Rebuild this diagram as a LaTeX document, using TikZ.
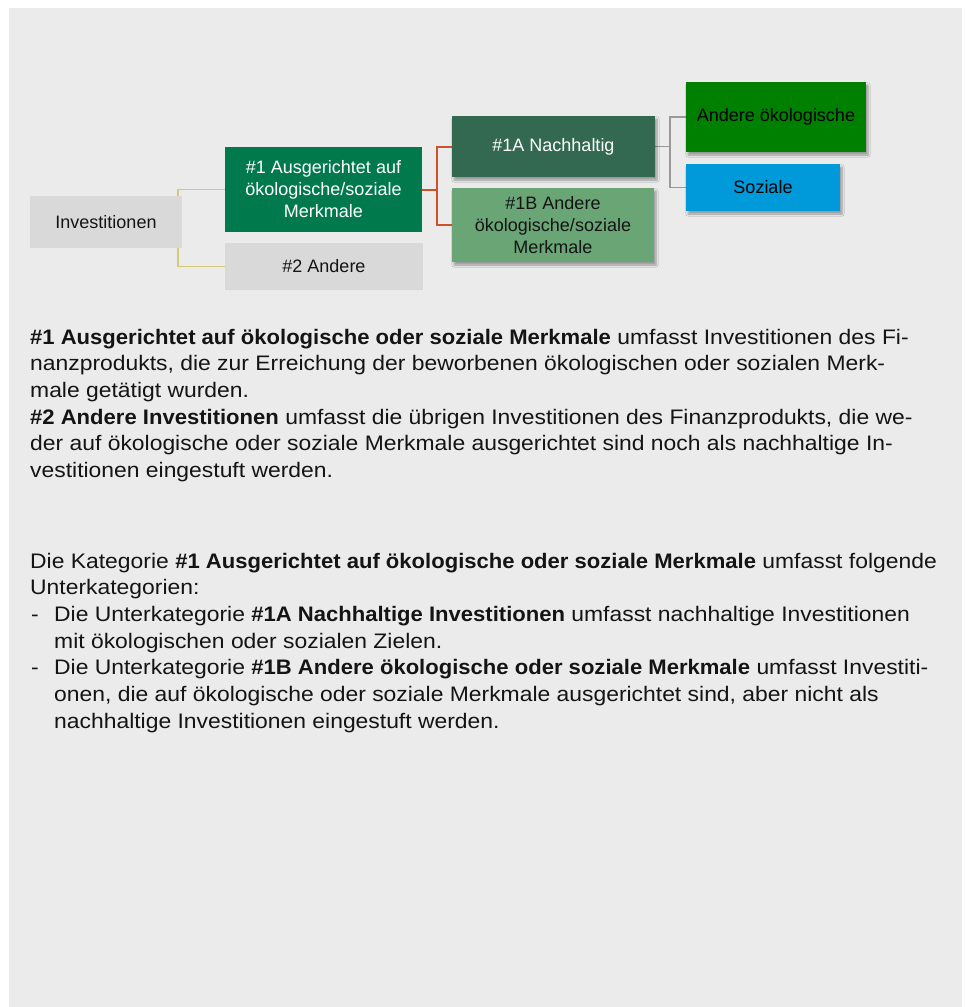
\documentclass[tikz,border=0pt]{standalone}
\usepackage{fontspec}
\setmainfont{Liberation Sans}
\newfontfamily\bodyfont[UprightFeatures={FakeStretch=1.09}, BoldFeatures={FakeStretch=1.05}]{Liberation Sans}
\usetikzlibrary{shadows.blur,backgrounds}
\definecolor{bgc}{HTML}{EBEBEB}
\definecolor{boxgray}{HTML}{D9D9D9}
\definecolor{gOne}{HTML}{007A4D}
\definecolor{gOneA}{HTML}{336951}
\definecolor{gOneB}{HTML}{6AA576}
\definecolor{gOeko}{HTML}{008000}
\definecolor{bSoz}{HTML}{0099DA}
\definecolor{cRed}{HTML}{D0502C}
\definecolor{cYel}{HTML}{D4C878}
\definecolor{cGray}{HTML}{999999}
\definecolor{txt}{HTML}{141414}
\tikzset{
  bx/.style={draw=none, inner sep=0pt, align=center, text=txt,
    font=\fontsize{18}{22}\selectfont},
  shd/.style={blur shadow={shadow xshift=2pt, shadow yshift=-3pt, shadow blur steps=6, shadow opacity=35}},
  body/.style={anchor=base west, inner sep=0pt, text=txt, font=\bodyfont\fontsize{21}{26.7}\selectfont},
  conn/.style={line width=1.5pt},
}
\begin{document}
\begin{tikzpicture}[x=1pt,y=-1pt]
\useasboundingbox (0,0) rectangle (966,1007);
% boxes
\node[bx, fill=boxgray, minimum width=152pt, minimum height=52pt] (inv) at (106,222) {Investitionen};
\node[bx, fill=gOne, text=white, minimum width=197pt, minimum height=85pt] (n1) at (323.5,189.5) {\#1 Ausgerichtet auf\\ökologische/soziale\\Merkmale};
\node[bx, fill=boxgray, minimum width=198pt, minimum height=47pt] (n2) at (324,266.5) {\#2 Andere};
\node[bx, shd, fill=gOneA, text=white, minimum width=203pt, minimum height=61pt] (n1a) at (553.5,146.5) {\#1A Nachhaltig};
\node[bx, shd, fill=gOneB, minimum width=202pt, minimum height=74pt] (n1b) at (553,225) {\#1B Andere\\ökologische/soziale\\Merkmale};
\node[bx, shd, fill=gOeko, text=black, minimum width=180pt, minimum height=70pt] (oeko) at (776,117) {Andere ökologische};
\node[bx, shd, fill=bSoz, text=black, minimum width=154pt, minimum height=47pt] (soz) at (763,187.5) {Soziale};
% connector junctions
\coordinate (jy) at ([xshift=-4pt]inv.east);
\coordinate (jr) at ([xshift=15pt]n1.east);
\coordinate (jg) at ([xshift=15pt]n1a.east);
\begin{pgfonlayer}{background}
\fill[white] (0,0) rectangle (966,1007);
\fill[bgc] (9,8) rectangle (962,1007);
\draw[conn, cYel] (jy) |- (n1.west);
\draw[conn, cYel] (jy) |- (n2.west);
\draw[conn, cRed, line width=2pt] (n1.east) -- (jr) |- (n1a.west);
\draw[conn, cRed, line width=2pt] (jr) |- (n1b.west);
\draw[conn, cGray] (n1a.east) -- (jg) |- (oeko.west);
\draw[conn, cGray] (jg) |- (soz.west);
\end{pgfonlayer}
% body text
\node[body] (t1) at (30,344) {\textbf{\#1 Ausgerichtet auf ökologische oder soziale Merkmale} umfasst Investitionen des Fi-};
\node[body] (t2) at (30,370.7) {nanzprodukts, die zur Erreichung der beworbenen ökologischen oder sozialen Merk-};
\node[body] (t3) at (30,397.3) {male getätigt wurden.};
\node[body] (t4) at (30,424) {\textbf{\#2 Andere Investitionen} umfasst die übrigen Investitionen des Finanzprodukts, die we-};
\node[body] (t5) at (30,450.7) {der auf ökologische oder soziale Merkmale ausgerichtet sind noch als nachhaltige In-};
\node[body] (t6) at (30,477.3) {vestitionen eingestuft werden.};
\node[body] (t7) at (30,568) {Die Kategorie \textbf{\#1 Ausgerichtet auf ökologische oder soziale Merkmale} umfasst folgende};
\node[body] (t8) at (30,594.7) {Unterkategorien:};
\node[body] (d1) at (31,621.3) {-};
\node[body] (t9) at (54,621.3) {Die Unterkategorie \textbf{\#1A Nachhaltige Investitionen} umfasst nachhaltige Investitionen};
\node[body] (t10) at (54,648) {mit ökologischen oder sozialen Zielen.};
\node[body] (d2) at (31,674.7) {-};
\node[body] (t11) at (54,674.7) {Die Unterkategorie \textbf{\#1B Andere ökologische oder soziale Merkmale} umfasst Investiti-};
\node[body] (t12) at (54,701.3) {onen, die auf ökologische oder soziale Merkmale ausgerichtet sind, aber nicht als};
\node[body] (t13) at (54,728) {nachhaltige Investitionen eingestuft werden.};
\end{tikzpicture}
\end{document}
